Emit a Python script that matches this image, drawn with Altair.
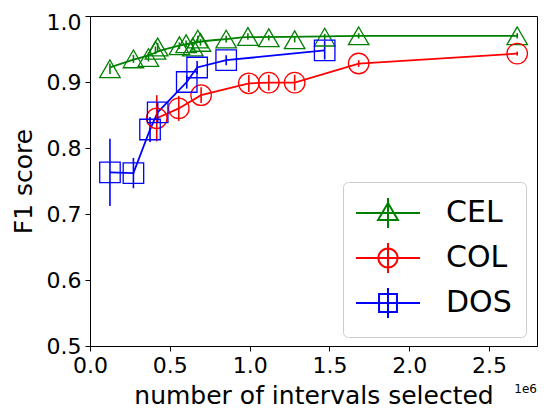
import altair as alt
import pandas as pd

# ---- data (x in units of 1e6 intervals) ----
series = ["CEL", "COL", "DOS"]
colors = ["#008000", "#ff0000", "#0000ff"]

cel_x = [0.125, 0.272, 0.366, 0.410, 0.424, 0.560, 0.602, 0.644, 0.675, 0.692,
         0.853, 0.989, 1.120, 1.282, 1.470, 1.683, 2.676]
cel_y = [0.920, 0.935, 0.937, 0.948, 0.953, 0.955, 0.958, 0.953, 0.965, 0.960,
         0.965, 0.969, 0.967, 0.964, 0.968, 0.970, 0.970]
cel_err = [0.008, 0.006, 0.006, 0.006, 0.006, 0.005, 0.005, 0.005, 0.005, 0.005,
           0.005, 0.005, 0.004, 0.004, 0.005, 0.004, 0.004]
# smooth trend line drawn for CEL
cel_line_x = [0.125, 0.272, 0.376, 0.424, 0.560, 0.690, 0.853, 0.989, 1.470, 1.683, 2.676]
cel_line_y = [0.922, 0.934, 0.941, 0.946, 0.955, 0.961, 0.965, 0.968, 0.969, 0.970, 0.970]

col_x = [0.418, 0.556, 0.696, 0.995, 1.120, 1.282, 1.683, 2.676]
col_y = [0.845, 0.860, 0.880, 0.898, 0.899, 0.899, 0.928, 0.943]
col_err = [0.035, 0.019, 0.012, 0.013, 0.012, 0.012, 0.005, 0.003]

dos_x = [0.125, 0.272, 0.376, 0.424, 0.606, 0.671, 0.853, 1.470]
dos_y = [0.763, 0.762, 0.828, 0.854, 0.900, 0.922, 0.933, 0.948]
dos_err = [0.051, 0.023, 0.019, 0.015, 0.010, 0.010, 0.0075, 0.014]

x_ticks = [0.0, 0.5, 1.0, 1.5, 2.0, 2.5]
y_ticks = [0.5, 0.6, 0.7, 0.8, 0.9, 1.0]

# ---- tables ----
def pts(name, xs, ys, es):
    return pd.DataFrame({"series": name, "x": xs, "y": ys,
                         "lo": [a - b for a, b in zip(ys, es)],
                         "hi": [a + b for a, b in zip(ys, es)]})

points = pd.concat([pts("CEL", cel_x, cel_y, cel_err),
                    pts("COL", col_x, col_y, col_err),
                    pts("DOS", dos_x, dos_y, dos_err)], ignore_index=True)
points["order"] = points["series"].map({s: i for i, s in enumerate(series)})

smooth_lines = pd.DataFrame({"series": "CEL", "x": cel_line_x, "y": cel_line_y})
straight_lines = pd.concat([
    pd.DataFrame({"series": "COL", "x": col_x, "y": col_y}),
    pd.DataFrame({"series": "DOS", "x": dos_x, "y": dos_y}),
], ignore_index=True)

W, H = 447, 330
color_scale = alt.Scale(domain=series, range=colors)
xs = alt.Scale(domain=[0, 2.8], nice=False, zero=False)
ys = alt.Scale(domain=[0.5, 1.0], nice=False, zero=False)

x_enc = alt.X("x:Q", scale=xs,
              axis=alt.Axis(values=x_ticks, format=".1f", labelFlush=False,
                            title="number of intervals selected"))
y_enc = alt.Y("y:Q", scale=ys,
              axis=alt.Axis(values=y_ticks, format=".1f", labelFlush=False,
                            labelOffset={"condition": {"test": "datum.value > 0.99", "value": 6},
                                         "value": 0},
                            title="F1 score"))

smooth_layer = alt.Chart(smooth_lines).mark_line(strokeWidth=1.8, interpolate="monotone").encode(
    x=x_enc, y=y_enc,
    color=alt.Color("series:N", scale=color_scale, legend=None),
)

straight_layer = alt.Chart(straight_lines).mark_line(strokeWidth=1.8).encode(
    x="x:Q", y="y:Q",
    color=alt.Color("series:N", scale=color_scale, legend=None),
    detail="series:N",
)

err_layer = alt.Chart(points).mark_rule(strokeWidth=1.6).encode(
    x="x:Q", y="lo:Q", y2="hi:Q",
    color=alt.Color("series:N", scale=color_scale, legend=None),
)

point_layer = alt.Chart(points).mark_point(filled=False, strokeWidth=1.3, size=420, opacity=1).encode(
    x="x:Q", y="y:Q",
    color=alt.Color("series:N", scale=color_scale, legend=None),
    shape=alt.Shape("series:N", scale=alt.Scale(domain=series,
                    range=["triangle-up", "circle", "square"]), legend=None),
    order="order:Q",
)

# legend glyphs: line + errorbar tick + marker (unit = 16 px with symbolSize 1024)
legend_paths = [
    "M-2,0L2,0M0,-0.94L0,0.94M0,-0.62L0.62,0.44L-0.62,0.44Z",
    "M-2,0L2,0M0,-0.94L0,0.94M0.6,0A0.6,0.6,0,1,1,-0.6,0A0.6,0.6,0,1,1,0.6,0Z",
    "M-2,0L2,0M0,-0.94L0,0.94M-0.56,-0.56L0.56,-0.56L0.56,0.56L-0.56,0.56Z",
]

legend_layer = alt.Chart(points).transform_filter("false").mark_point(
    filled=False, strokeWidth=2, opacity=1).encode(
    x="x:Q", y="y:Q",
    color=alt.Color("series:N", scale=color_scale, title=None),
    shape=alt.Shape("series:N", scale=alt.Scale(domain=series, range=legend_paths), title=None),
)

offset_text = alt.Chart(alt.Data(values=[{"t": "1e6"}])).mark_text(
    align="right", baseline="alphabetic", fontSize=12, font="DejaVu Sans", color="black"
).encode(text="t:N", x=alt.value(W), y=alt.value(H + 47))

chart = alt.layer(smooth_layer, straight_layer, err_layer, point_layer, legend_layer,
                  offset_text).resolve_scale(
    color="independent", shape="independent"
).properties(
    width=W, height=H,
    autosize=alt.AutoSizeParams(type="none"),
    padding={"left": 82, "top": 8, "right": 10, "bottom": 66},
).configure_view(
    stroke="black", strokeWidth=1
).configure_axis(
    grid=False, domainColor="black", tickColor="black", tickSize=5, domainWidth=1,
    labelFont="DejaVu Sans", labelFontSize=22, labelColor="black",
    titleFont="DejaVu Sans", titleFontSize=25, titleFontWeight="normal", titleColor="black",
    labelPadding=4,
).configure_axisX(titlePadding=7).configure_axisY(titlePadding=10).configure_legend(
    orient="none", legendX=253, legendY=166,
    labelFont="DejaVu Sans", labelFontSize=30, labelColor="black",
    symbolSize=1024, symbolStrokeWidth=2, symbolOffset=14, labelOffset=41,
    padding=14, rowPadding=5, fillColor="white", strokeColor="#cccccc",
    cornerRadius=5,
)

chart.save("out.html", embed_options={"renderer": "svg", "actions": False})
